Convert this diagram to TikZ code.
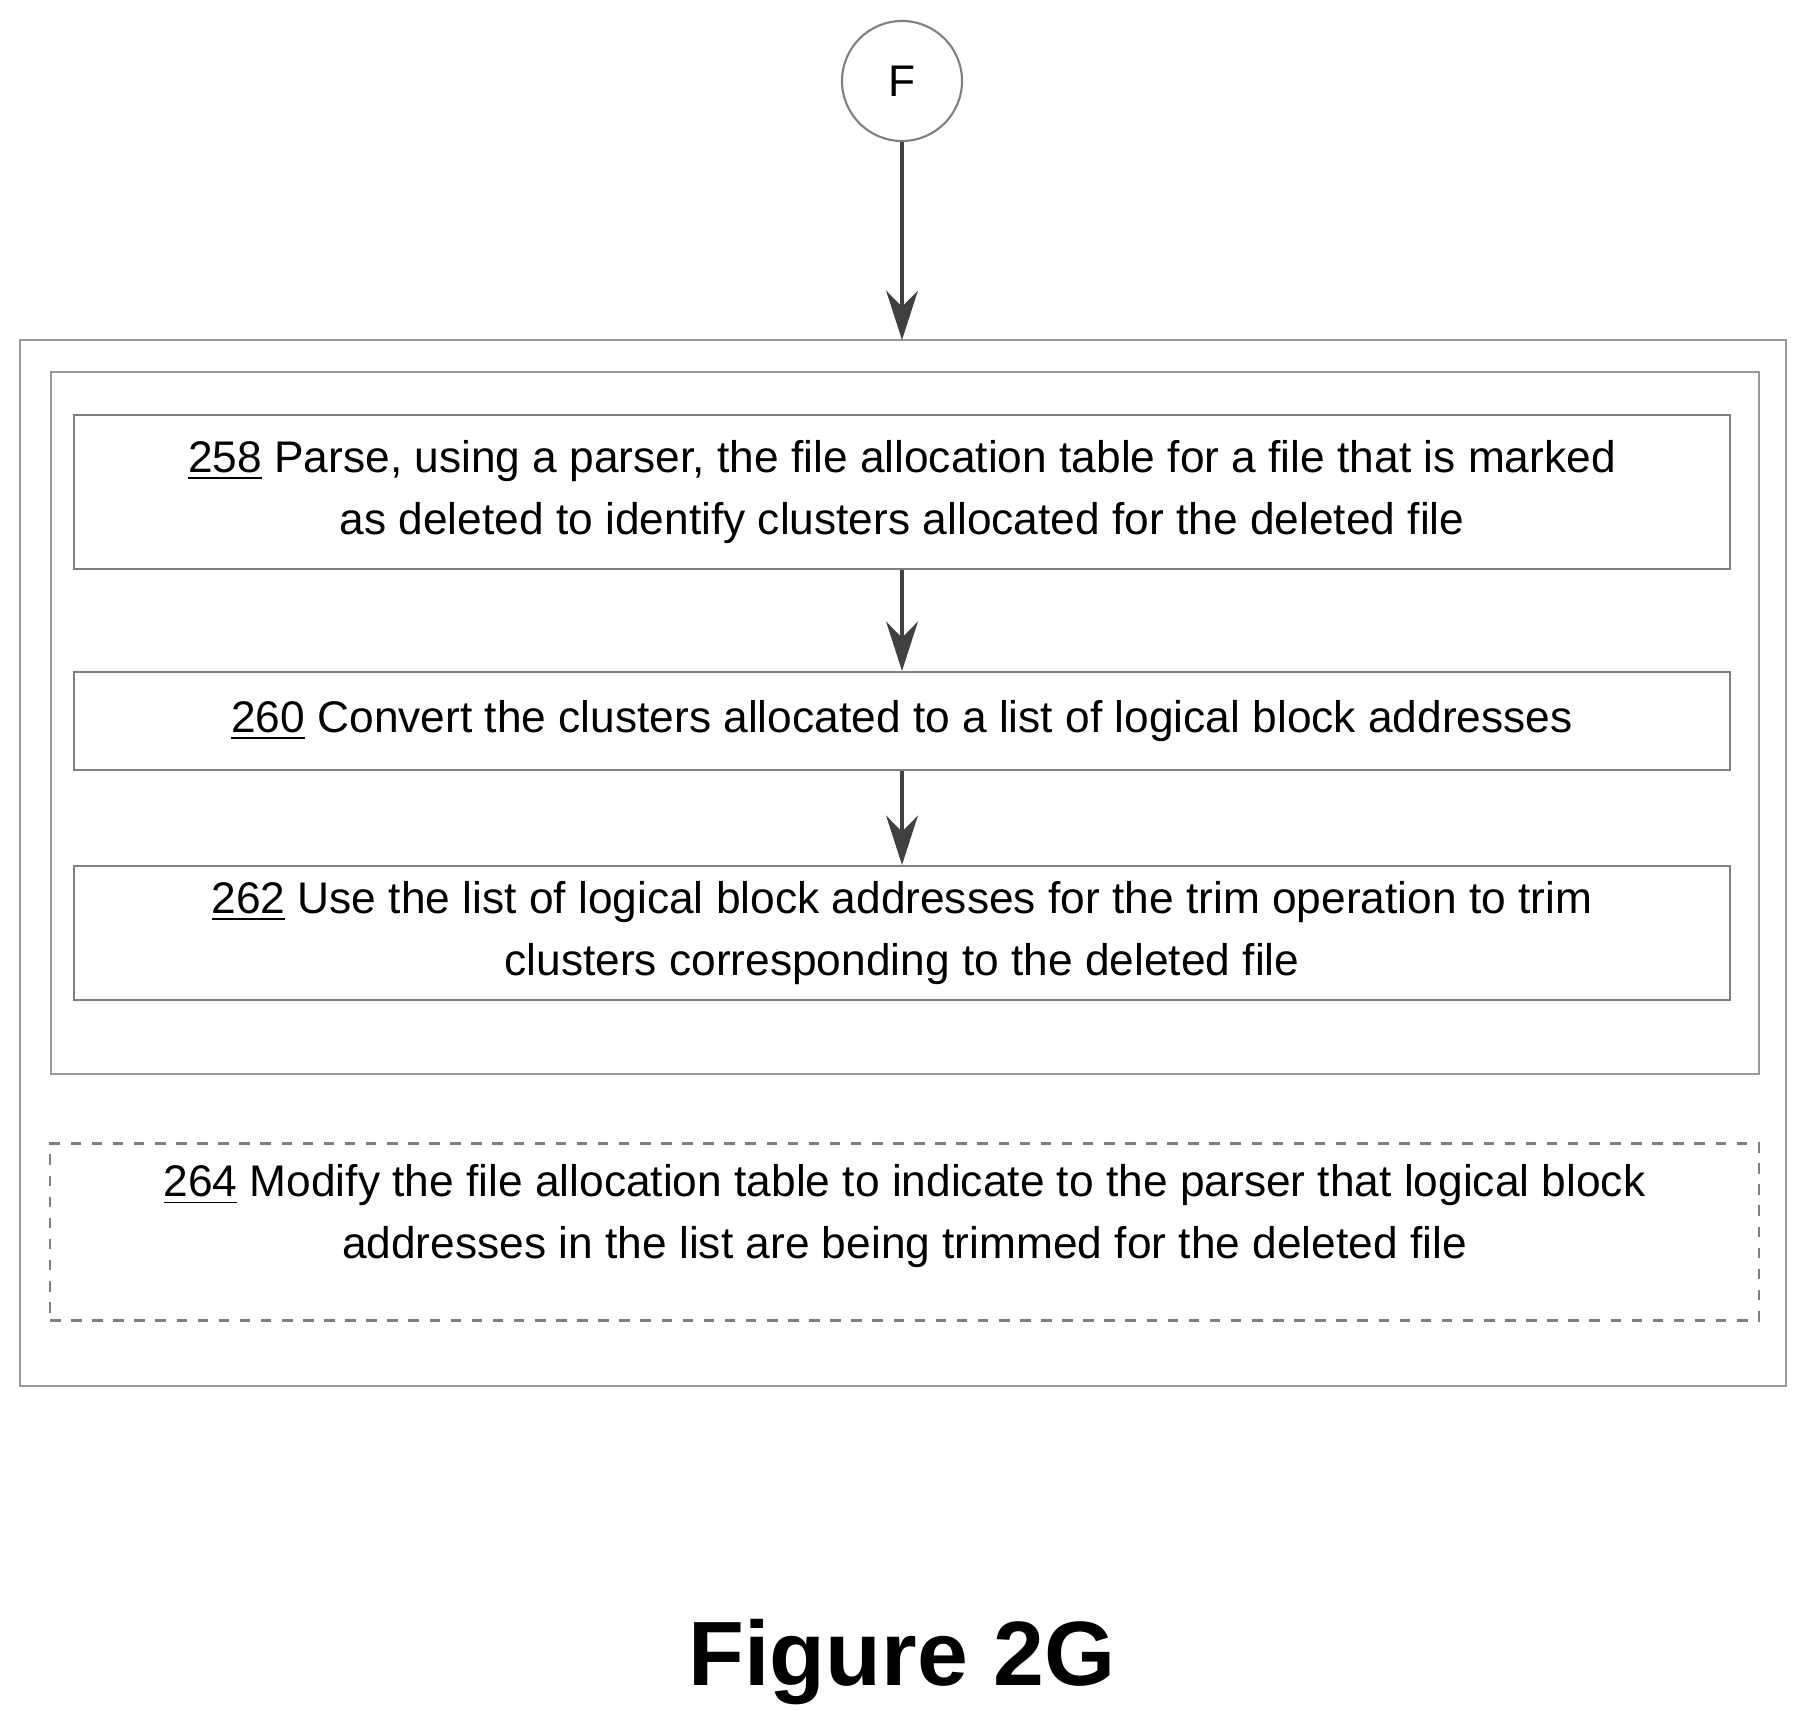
\documentclass[tikz,border=0pt]{standalone}
\usepackage{fontspec}
\setmainfont{Liberation Sans}
\usetikzlibrary{arrows.meta,positioning}
\begin{document}
\begin{tikzpicture}[
		> = {Stealth[length=14pt,width=9pt]}, % arrow head style
		line width = 0.6pt,
		font = \fontsize{12.6}{17.5}\selectfont
	]
	
	\tikzset{
		step/.style = {draw = gray, minimum height = #1, minimum width = 16.56cm, align = center, inner sep = 0pt},
		frame/.style = {draw = gray!80},
		link/.style = {->, draw = black!75, line width = 1.2pt}
	}
	
	\useasboundingbox (0,0) rectangle (18.02,-17.10);
	
	\node[circle, draw = gray, minimum size = 1.2cm] (f) at (9.02,-0.81) {F};
	
	\draw[frame] (0.20,-3.40) rectangle (17.86,-13.86);
	\coordinate (top) at (9.02,-3.40);
	\draw[frame] (0.51,-3.72) rectangle (17.59,-10.74);
	
	\node[step=1.54cm] (s258) at (9.02,-4.92) {\underline{258} Parse, using a parser, the file allocation table for a file that is marked\\as deleted to identify clusters allocated for the deleted file};
	\node[step=0.98cm] (s260) at (9.02,-7.21) {\underline{260} Convert the clusters allocated to a list of logical block addresses};
	\node[step=1.34cm] (s262) at (9.02,-9.33) {\underline{262} Use the list of logical block addresses for the trim operation to trim\\clusters corresponding to the deleted file};
	\node[draw = gray, dashed, minimum width = 17.09cm, minimum height = 1.77cm, inner sep = 0pt] (s264) at (9.045,-12.32) {};
	\node[align = center, anchor = north] (t264) at (9.045,-11.52) {\underline{264} Modify the file allocation table to indicate to the parser that logical block\\addresses in the list are being trimmed for the deleted file};
	
	\node[font = \fontsize{26}{32}\bfseries\selectfont] (cap) at (9.02,-16.62) {Figure 2G};
	
	\draw[link] (f) -- (top);
	\draw[link] (s258) -- (s260);
	\draw[link] (s260) -- (s262);
\end{tikzpicture}
\end{document}
